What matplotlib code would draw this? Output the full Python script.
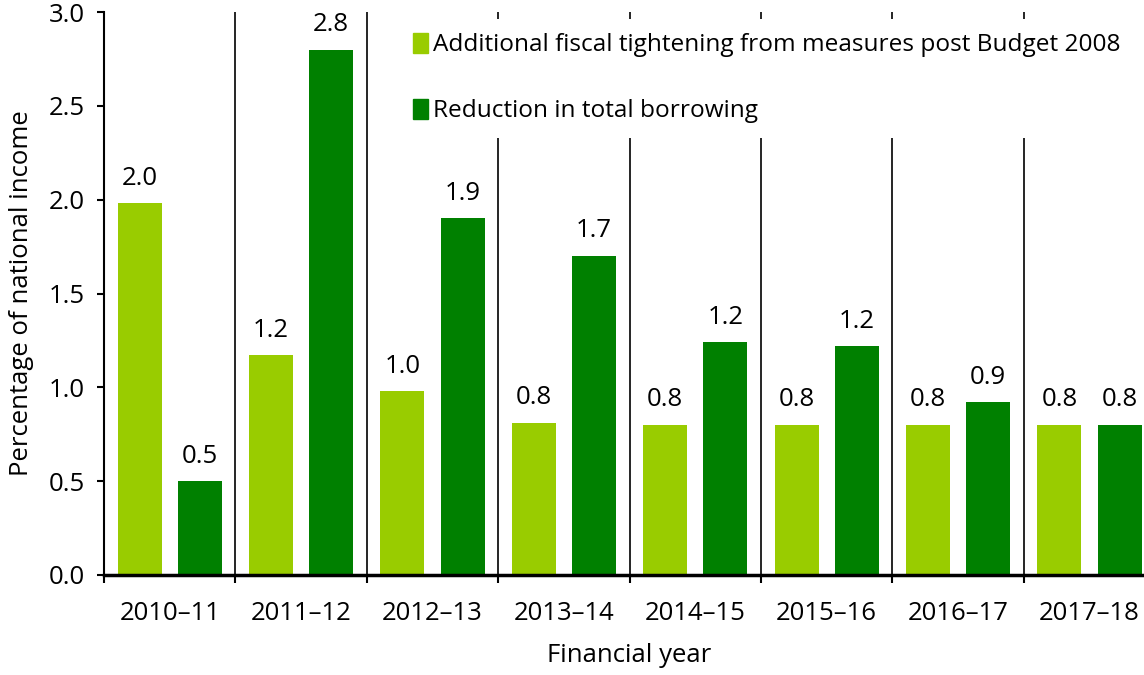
import matplotlib
matplotlib.use("Agg")
import matplotlib.pyplot as plt
import numpy as np
from matplotlib.patches import Patch

# Data
years = ["2010–11", "2011–12", "2012–13", "2013–14",
         "2014–15", "2015–16", "2016–17", "2017–18"]
tightening = [1.98, 1.17, 0.98, 0.81, 0.80, 0.80, 0.80, 0.80]
borrowing = [0.50, 2.80, 1.90, 1.70, 1.24, 1.22, 0.92, 0.80]

light = "#99cc00"
dark = "#008000"

plt.rcParams["font.family"] = ["Open Sans", "DejaVu Sans"]
plt.rcParams["font.size"] = 18.5

fig = plt.figure(figsize=(11.44, 6.75), dpi=100)
ax = fig.add_axes([104 / 1144, 1 - 575 / 675, 8 * 131.4 / 1144, 563 / 675])

x = np.arange(len(years))
off = 0.229
w = 0.336
b1 = ax.bar(x - off, tightening, w, color=light, zorder=2)
b2 = ax.bar(x + off, borrowing, w, color=dark, zorder=2)
ax.bar_label(b1, fmt="{:.1f}", padding=9, fontsize=18.5)
ax.bar_label(b2, fmt="{:.1f}", padding=9, fontsize=18.5)

# group separators
for s in x[:-1] + 0.5:
    ax.axvline(s, color="black", lw=1.2, zorder=1)

ax.set_xlim(-0.5, len(years) - 0.5)
ax.set_ylim(0, 3.0)
ax.set_yticks(np.arange(0, 3.01, 0.5))
ax.set_yticklabels([f"{v:.1f}" for v in np.arange(0, 3.01, 0.5)])
ax.set_xticks(x)
ax.set_xticklabels(years)
ax.set_xticks(np.arange(-0.5, len(years), 1.0), minor=True)
ax.tick_params(axis="x", which="major", length=0, pad=19)
ax.tick_params(axis="x", which="minor", length=6, width=1.5, direction="out")
ax.tick_params(axis="y", length=5, width=1.5, pad=9)

for side in ("top", "right"):
    ax.spines[side].set_visible(False)
ax.spines["left"].set_linewidth(1.5)
ax.spines["bottom"].set_linewidth(2.5)
for sp in ax.spines.values():
    sp.set_zorder(4)

ax.set_ylabel("Percentage of national income", labelpad=10)
ax.set_xlabel("Financial year", labelpad=12)

handles = [Patch(color=light, label="Additional fiscal tightening from measures post Budget 2008"),
           Patch(color=dark, label="Reduction in total borrowing")]
leg = ax.legend(handles=handles, loc="upper left", bbox_to_anchor=(0.268, 1.01),
                frameon=True, fancybox=False, framealpha=1, edgecolor="none",
                facecolor="white", handlelength=0.65, handleheight=0.85,
                handletextpad=0.2, labelspacing=1.7, borderpad=0.6,
                fontsize=17.6)
leg.set_zorder(5)

fig.savefig("out.png", dpi=100)
